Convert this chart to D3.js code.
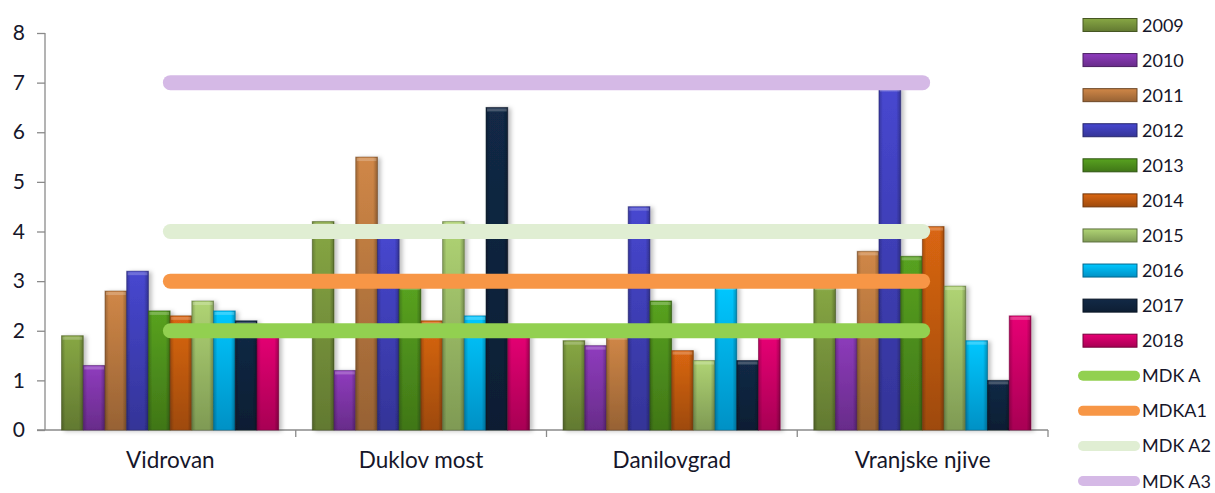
<!DOCTYPE html>
<html>
<head>
<meta charset="utf-8">
<script src="https://cdn.jsdelivr.net/npm/d3@7/dist/d3.min.js"></script>
<style>
  html, body { margin: 0; padding: 0; background: #fff; }
  svg { display: block; }
  text { font-family: Lato, "Open Sans", sans-serif; fill: #16162a; }
</style>
</head>
<body>
<svg id="chart" width="1215" height="493"></svg>
<script>
// ---- data ----
const categories = ["Vidrovan", "Duklov most", "Danilovgrad", "Vranjske njive"];
const years = ["2009", "2010", "2011", "2012", "2013", "2014", "2015", "2016", "2017", "2018"];
const yearColors = ["#77933C", "#7E35A8", "#B8773F", "#3F3FB8", "#4E8F1C", "#C05A10", "#9BBB66", "#00B0F0", "#10243E", "#CC0066"];
// values per year, one entry per category
const v2009 = [1.9, 4.2, 1.8, 2.9];
const v2010 = [1.3, 1.2, 1.7, 2.0];
const v2011 = [2.8, 5.5, 1.9, 3.6];
const v2012 = [3.2, 4.0, 4.5, 6.9];
const v2013 = [2.4, 2.9, 2.6, 3.5];
const v2014 = [2.3, 2.2, 1.6, 4.1];
const v2015 = [2.6, 4.2, 1.4, 2.9];
const v2016 = [2.4, 2.3, 2.9, 1.8];
const v2017 = [2.2, 6.5, 1.4, 1.0];
const v2018 = [2.0, 2.0, 1.9, 2.3];
const yearValues = [v2009, v2010, v2011, v2012, v2013, v2014, v2015, v2016, v2017, v2018];

const limitNames = ["MDK A", "MDKA1", "MDK A2", "MDK A3"];
const limitValues = [2, 3, 4, 7];
const limitColors = ["#92D050", "#F79646", "#E0EED3", "#D5B9E6"];

const yTicks = [0, 1, 2, 3, 4, 5, 6, 7, 8];

// ---- layout ----
const svg = d3.select("#chart");
const mLeft = 45, mRight = 1048, mTop = 33, mBottom = 430;

const x = d3.scaleBand().domain(categories).range([mLeft, mRight]).paddingInner(0).paddingOuter(0);
const bw = x.bandwidth();
const xi = d3.scaleBand().domain(years).range([bw * 0.066, bw * 0.932]).padding(0);
const y = d3.scaleLinear().domain([0, 8]).range([mBottom, mTop]);

const defs = svg.append("defs");
yearColors.forEach((c, i) => {
  const g = defs.append("linearGradient").attr("id", "g" + i)
    .attr("x1", 0).attr("y1", 0).attr("x2", 0).attr("y2", 1);
  g.append("stop").attr("offset", "0%").attr("stop-color", d3.color(c).brighter(0.35));
  g.append("stop").attr("offset", "100%").attr("stop-color", d3.color(c).darker(0.55));
});
const hg = defs.append("linearGradient").attr("id", "edge").attr("x1", 0).attr("x2", 1).attr("y1", 0).attr("y2", 0);
hg.append("stop").attr("offset", "0%").attr("stop-color", "#000").attr("stop-opacity", 0.22);
hg.append("stop").attr("offset", "18%").attr("stop-color", "#000").attr("stop-opacity", 0);
hg.append("stop").attr("offset", "80%").attr("stop-color", "#000").attr("stop-opacity", 0);
hg.append("stop").attr("offset", "100%").attr("stop-color", "#000").attr("stop-opacity", 0.28);
const f = defs.append("filter").attr("id", "shadow").attr("x", "-20%").attr("y", "-10%").attr("width", "160%").attr("height", "130%");
f.append("feDropShadow").attr("dx", 3).attr("dy", 1).attr("stdDeviation", 2).attr("flood-color", "#000").attr("flood-opacity", 0.25);

// ---- axes ----
const axisColor = "#8a8a8a";
const yAxis = svg.append("g").attr("transform", `translate(${mLeft},0)`)
  .call(d3.axisLeft(y).tickValues(yTicks).tickSize(8).tickPadding(12).tickFormat(d3.format("d")));
yAxis.selectAll("path, line").attr("stroke", axisColor).attr("stroke-width", 1.3);
yAxis.select("path").attr("d", `M0,${mTop}H0V${mBottom}`);
yAxis.selectAll("text").style("font-size", "21px").attr("fill", "#16162a");

const xAxisG = svg.append("g").attr("transform", `translate(0,${mBottom})`);
xAxisG.append("line").attr("x1", mLeft - 8).attr("x2", mRight).attr("y1", 0).attr("y2", 0)
  .attr("stroke", axisColor).attr("stroke-width", 1.3);
xAxisG.selectAll("line.tk").data(categories).enter().append("line").attr("class", "tk")
  .attr("x1", d => x(d) + bw).attr("x2", d => x(d) + bw).attr("y1", 0).attr("y2", 7)
  .attr("stroke", axisColor).attr("stroke-width", 1.3);
xAxisG.selectAll("text").data(categories).enter().append("text")
  .attr("x", d => x(d) + bw / 2).attr("y", 38).attr("text-anchor", "middle")
  .style("font-size", "22.5px").text(d => d);

// ---- bars ----
const barsG = svg.append("g").attr("filter", "url(#shadow)");
years.forEach((yr, i) => {
  const sel = barsG.selectAll(null).data(categories.map((c, k) => ({ c, v: yearValues[i][k] }))).enter();
  sel.append("rect")
    .attr("x", d => x(d.c) + xi(yr)).attr("width", xi.bandwidth())
    .attr("y", d => y(d.v)).attr("height", d => y(0) - y(d.v))
    .attr("fill", `url(#g${i})`)
    .attr("stroke", d3.color(yearColors[i]).darker(1.2)).attr("stroke-opacity", 0.55).attr("stroke-width", 1);
  sel.append("rect")
    .attr("x", d => x(d.c) + xi(yr)).attr("width", xi.bandwidth())
    .attr("y", d => y(d.v)).attr("height", d => y(0) - y(d.v))
    .attr("fill", "url(#edge)");
  sel.append("rect")
    .attr("x", d => x(d.c) + xi(yr) + 1).attr("width", xi.bandwidth() - 2)
    .attr("y", d => y(d.v) + 1).attr("height", 3)
    .attr("fill", "#fff").attr("opacity", 0.22);
});

// ---- limit lines ----
const line = d3.line().x(d => x(d.c) + bw / 2).y(d => y(d.v));
limitNames.forEach((n, i) => {
  svg.append("path")
    .datum(categories.map(c => ({ c, v: limitValues[i] })))
    .attr("d", line).attr("fill", "none")
    .attr("stroke", limitColors[i]).attr("stroke-width", 15).attr("stroke-linecap", "round");
});

// ---- legend ----
const legend = svg.append("g");
const legY = d3.scaleLinear().domain([0, 13]).range([25, 481]);
years.forEach((yr, i) => {
  const g = legend.append("g").attr("transform", `translate(0,${legY(i)})`);
  g.append("rect").attr("x", 1083).attr("y", -6.5).attr("width", 54).attr("height", 13)
    .attr("fill", `url(#g${i})`).attr("stroke", d3.color(yearColors[i]).darker(1.5)).attr("stroke-width", 1);
  g.append("text").attr("x", 1142).attr("y", 6.5).style("font-size", "18px").text(yr);
});
limitNames.forEach((n, i) => {
  const g = legend.append("g").attr("transform", `translate(0,${legY(i + 10)})`);
  g.append("line").attr("x1", 1083).attr("x2", 1135).attr("y1", 0).attr("y2", 0)
    .attr("stroke", limitColors[i]).attr("stroke-width", 10).attr("stroke-linecap", "round");
  g.append("text").attr("x", 1142).attr("y", 6.5).style("font-size", "18px").text(n);
});
</script>
</body>
</html>
